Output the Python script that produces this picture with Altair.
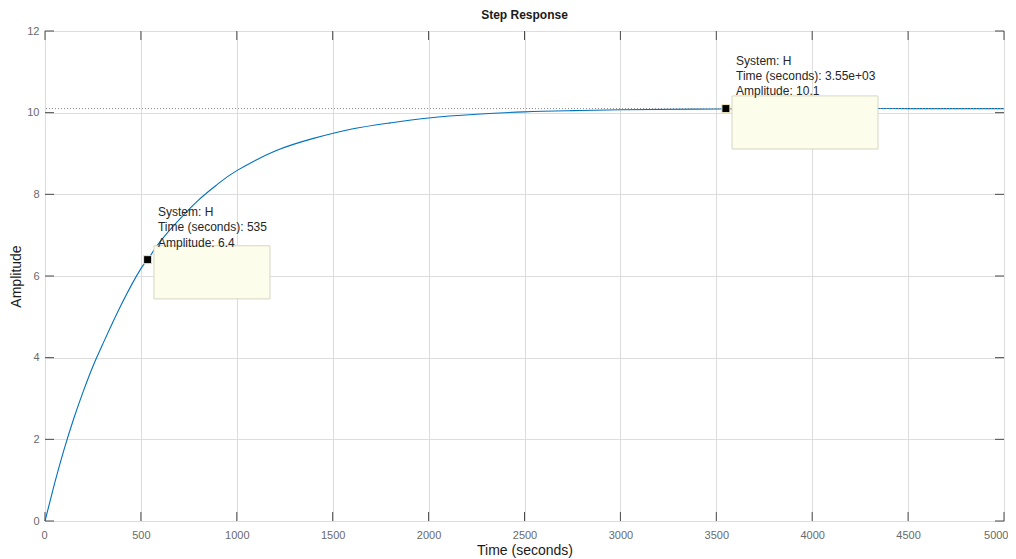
import altair as alt
import pandas as pd

# Step response
time_s = [0, 50, 100, 150, 200, 250, 300, 400, 500, 535, 600, 700, 800, 900, 1000,
          1200, 1400, 1600, 1800, 2000, 2250, 2500, 2750, 3000, 3500, 4000, 4500, 5000]
amplitude = [0, 0.92, 1.76, 2.51, 3.18, 3.79, 4.32, 5.32, 6.18, 6.40, 6.84, 7.38,
             7.86, 8.25, 8.58, 9.06, 9.37, 9.60, 9.75, 9.87, 9.96, 10.02, 10.05,
             10.07, 10.09, 10.10, 10.10, 10.10]
steady_state = 10.1

x_ticks = [0, 500, 1000, 1500, 2000, 2500, 3000, 3500, 4000, 4500, 5000]
y_ticks = [0, 2, 4, 6, 8, 10, 12]

# data tips
tip_t = [535, 3550]
tip_a = [6.4, 10.1]
box_x1 = [568, 3582]
box_x2 = [1173, 4343]
box_y1 = [5.44, 9.11]
box_y2 = [6.74, 10.41]
tip_lines = [["System: H", "Time (seconds): 535", "Amplitude: 6.4"],
             ["System: H", "Time (seconds): 3.55e+03", "Amplitude: 10.1"]]
text_x = [589, 3603]
text_y = [[7.57, 7.20, 6.81], [11.27, 10.90, 10.53]]

W, H = 959, 490
FONT = "Liberation Sans"
LABEL_COL = "#6a6a6a"
TITLE_COL = "#1a1a1a"

curve = pd.DataFrame({"t": time_s, "a": amplitude})
xs = alt.Scale(domain=[0, 5000], nice=False)
ys = alt.Scale(domain=[0, 12], nice=False)

base_x = alt.X("t:Q", scale=xs, title="Time (seconds)",
               axis=alt.Axis(values=x_ticks, format="d", grid=True, tickSize=0, domain=False,
                             labelPadding=8, titlePadding=3, labelFlush=True,
                             labelFlushOffset=4, titleFontWeight="normal",
                             titleFontSize=14, titleFont=FONT, titleColor=TITLE_COL,
                             labelFontSize=11, labelFont=FONT, labelColor=LABEL_COL))
base_y = alt.Y("a:Q", scale=ys, title="Amplitude",
               axis=alt.Axis(values=y_ticks, format="d", grid=True, tickSize=0, domain=False,
                             labelPadding=6, titlePadding=3, titleFontWeight="normal",
                             titleFontSize=14, titleFont=FONT, titleColor=TITLE_COL,
                             labelFontSize=11, labelFont=FONT, labelColor=LABEL_COL))

line = alt.Chart(curve).mark_line(color="#0072BD", strokeWidth=1.1,
                                  interpolate="natural").encode(x=base_x, y=base_y)

ss = alt.Chart(pd.DataFrame({"a": [steady_state]})).mark_rule(
    color="#8a8a8a", strokeDash=[1, 2], strokeWidth=1).encode(y=alt.Y("a:Q", scale=ys))

# inward ticks
xt = pd.DataFrame({"t": x_ticks})
yt = pd.DataFrame({"a": y_ticks})
tick_col = "#4a4a4a"
tb = alt.Chart(xt).mark_rule(color=tick_col).encode(
    x=alt.X("t:Q", scale=xs), y=alt.value(H - 9), y2=alt.value(H))
tt = alt.Chart(xt).mark_rule(color=tick_col).encode(
    x=alt.X("t:Q", scale=xs), y=alt.value(0), y2=alt.value(9))
tl = alt.Chart(yt).mark_rule(color=tick_col).encode(
    y=alt.Y("a:Q", scale=ys), x=alt.value(0), x2=alt.value(9))
tr = alt.Chart(yt).mark_rule(color=tick_col).encode(
    y=alt.Y("a:Q", scale=ys), x=alt.value(W - 9), x2=alt.value(W))

boxes = alt.Chart(pd.DataFrame({"x1": box_x1, "x2": box_x2, "y1": box_y1, "y2": box_y2})).mark_rect(
    fill="#fdfdec", stroke="#d6d6c6", strokeWidth=1).encode(
    x=alt.X("x1:Q", scale=xs), x2="x2:Q", y=alt.Y("y1:Q", scale=ys), y2="y2:Q")

rows = []
for i in range(len(tip_lines)):
    for j, s in enumerate(tip_lines[i]):
        rows.append({"x": text_x[i], "y": text_y[i][j], "s": s})
texts = alt.Chart(pd.DataFrame(rows)).mark_text(
    align="left", baseline="middle", font=FONT, fontSize=12, color="#262626").encode(
    x=alt.X("x:Q", scale=xs), y=alt.Y("y:Q", scale=ys), text="s:N")

markers = alt.Chart(pd.DataFrame({"t": tip_t, "a": tip_a})).mark_square(
    size=64, color="black", opacity=1, stroke="#ecebc0", strokeWidth=1).encode(
    x=alt.X("t:Q", scale=xs), y=alt.Y("a:Q", scale=ys))

chart = alt.layer(line, ss, tb, tt, tl, tr, boxes, texts, markers).properties(
    width=W, height=H,
    title=alt.TitleParams("Step Response", fontSize=12, fontWeight="bold", font=FONT,
                          color="#1a1a1a", anchor="middle", offset=3),
    autosize=alt.AutoSizeParams(type="none"),
    padding={"left": 37, "top": 23, "right": 4, "bottom": 37},
).configure_view(stroke="#4a4a4a", strokeWidth=1).configure_axis(
    gridColor="#e3e3e3", gridWidth=1,
).configure(background="white")

chart.save("out.html", embed_options={"renderer": "svg", "actions": False})
